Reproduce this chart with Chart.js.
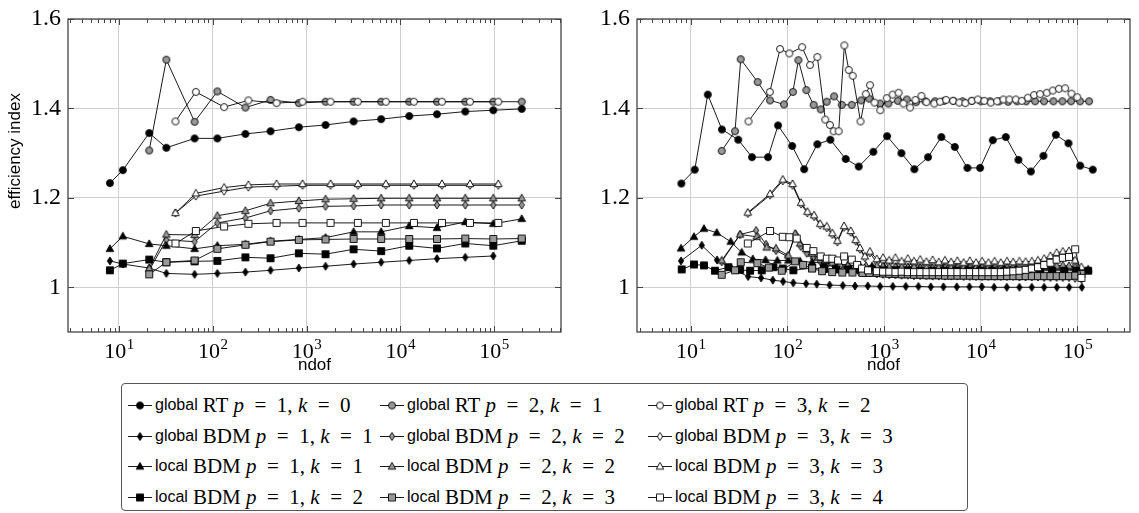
<!DOCTYPE html>
<html>
<head>
<meta charset="utf-8">
<script src="https://cdn.jsdelivr.net/npm/chart.js@4.4.0/dist/chart.umd.min.js"></script>
<style>
  body { margin: 0; background: #fff; width: 1139px; height: 513px; overflow: hidden; position: relative; font-family: "Liberation Sans", Arial, sans-serif; }
  #wrapL { position: absolute; left: 0; top: 0; }
  #wrapR { position: absolute; left: 570px; top: 0; }
  #legend { position: absolute; left: 121px; top: 383px; width: 845px; height: 126px; border: 1px solid #555; border-radius: 4px; }
  .ent { position: absolute; height: 22px; display: flex; align-items: center; white-space: nowrap; color: #000; }
  .ent img { margin-right: 3px; }
  .w { font-family: "Liberation Sans", Arial, sans-serif; font-size: 16px; margin-right: 5px; }
  .m { font-family: "Liberation Serif", "Times New Roman", serif; font-size: 21px; }
  .m i { font-style: italic; }
</style>
</head>
<body>
<div id="wrapL"><canvas id="chartL" width="575" height="376"></canvas></div>
<div id="wrapR"><canvas id="chartR" width="569" height="376"></canvas></div>
<div id="legend"></div>
<script>
// ---------- axes ----------
const X_MAJOR = [10, 100, 1000, 10000, 100000];
const Y_TICKS = [1, 1.2, 1.4, 1.6];

// ---------- left panel (uniform refinement) ----------
const L_ndofA = [8, 11, 21, 32, 64, 112, 223, 413, 828, 1595, 3175, 6250, 12450, 24600, 49300, 98000, 197000];
const L_ndofB = [40, 66, 132, 240, 479, 906, 1803, 3524, 7015, 13960, 27800, 55300, 110900];

const L_gRT1   = [1.233, 1.262, 1.345, 1.312, 1.333, 1.333, 1.343, 1.349, 1.358, 1.363, 1.371, 1.376, 1.383, 1.387, 1.393, 1.396, 1.399];
const L_gRT2   = [null, null, 1.306, 1.509, 1.370, 1.438, 1.402, 1.419, 1.412, 1.415, 1.415, 1.415, 1.415, 1.415, 1.415, 1.415, 1.415];
const L_gRT3   = [1.371, 1.437, 1.403, 1.418, 1.412, 1.415, 1.415, 1.415, 1.415, 1.415, 1.415, 1.415, 1.415];
const L_gBDM1  = [1.059, 1.052, 1.043, 1.031, 1.029, 1.031, 1.034, 1.038, 1.043, 1.047, 1.052, 1.056, 1.060, 1.064, 1.067, 1.070, null];
const L_gBDM2  = [null, null, 1.038, 1.106, 1.102, 1.144, 1.155, 1.171, 1.177, 1.181, 1.182, 1.184, 1.184, 1.184, 1.184, 1.184, 1.184];
const L_gBDM3  = [1.166, 1.204, 1.215, 1.224, 1.226, 1.228, 1.228, 1.228, 1.228, 1.228, 1.228, 1.228, 1.228];
const L_lBDM11 = [1.086, 1.114, 1.097, 1.093, 1.086, 1.093, 1.096, 1.103, 1.107, 1.111, 1.124, 1.124, 1.137, 1.133, 1.146, 1.142, 1.153];
const L_lBDM22 = [null, null, 1.042, 1.118, 1.117, 1.160, 1.171, 1.188, 1.193, 1.197, 1.198, 1.199, 1.199, 1.199, 1.199, 1.199, 1.199];
const L_lBDM33 = [1.166, 1.210, 1.223, 1.229, 1.231, 1.231, 1.231, 1.231, 1.231, 1.231, 1.231, 1.231, 1.231];
const L_lBDM12 = [1.038, 1.053, 1.062, 1.056, 1.058, 1.059, 1.067, 1.065, 1.076, 1.074, 1.085, 1.081, 1.093, 1.087, 1.098, 1.093, 1.104];
const L_lBDM23 = [null, null, 1.029, 1.056, 1.060, 1.086, 1.095, 1.102, 1.106, 1.107, 1.108, 1.108, 1.108, 1.108, 1.109, 1.108, 1.109];
const L_lBDM34 = [1.098, 1.126, 1.136, 1.142, 1.144, 1.144, 1.144, 1.144, 1.144, 1.144, 1.144, 1.144, 1.144];

// ---------- right panel (adaptive refinement) ----------
const R_gRT1_n = [8, 11, 15, 21, 31, 43, 63, 80, 112, 149, 204, 278, 401, 547, 774, 1074, 1510, 2057, 2851, 3915, 5385, 7274, 9840, 13330, 18170, 24540, 32980, 44490, 59790, 80770, 106700, 144300];
const R_gRT1   = [1.232, 1.263, 1.431, 1.353, 1.330, 1.291, 1.291, 1.362, 1.316, 1.264, 1.320, 1.330, 1.287, 1.270, 1.303, 1.338, 1.300, 1.264, 1.291, 1.336, 1.314, 1.267, 1.267, 1.329, 1.336, 1.285, 1.259, 1.294, 1.341, 1.322, 1.272, 1.263];

const R_gRT2_n = [20.9, 28.7, 32.9, 49.3, 66.1, 92.2, 114, 130, 157, 187, 221, 255, 304, 365, 463, 579, 700, 910, 1107, 1386, 1718, 2143, 2674, 3371, 4180, 5215, 6486, 8072, 10070, 12500, 15490, 19190, 23770, 29440, 36480, 45190, 56440, 69980, 86090, 106600, 132100];
const R_gRT2   = [1.305, 1.349, 1.510, 1.459, 1.418, 1.409, 1.437, 1.508, 1.441, 1.408, 1.398, 1.415, 1.427, 1.408, 1.408, 1.418, 1.422, 1.411, 1.411, 1.417, 1.420, 1.414, 1.416, 1.416, 1.417, 1.417, 1.416, 1.417, 1.416, 1.416, 1.416, 1.415, 1.416, 1.416, 1.416, 1.416, 1.416, 1.416, 1.416, 1.416, 1.416];

const R_gRT3_n = [39.6, 65.8, 83.9, 104.7, 141.8, 171.5, 204, 246.4, 275, 301, 339, 388, 431, 474, 571, 647, 716, 797, 914, 1067, 1225, 1413, 1584, 1859, 2108, 2432, 2740, 3306, 3796, 4378, 5173, 5999, 6934, 8075, 9323, 10890, 12710, 14760, 17150, 19780, 23050, 26600, 30690, 35650, 41120, 48220, 55600, 64370, 74650, 86770, 99770];
const R_gRT3   = [1.371, 1.437, 1.533, 1.523, 1.537, 1.497, 1.515, 1.375, 1.363, 1.349, 1.349, 1.541, 1.486, 1.473, 1.371, 1.432, 1.452, 1.413, 1.396, 1.423, 1.431, 1.435, 1.411, 1.402, 1.419, 1.428, 1.414, 1.411, 1.415, 1.419, 1.417, 1.413, 1.412, 1.417, 1.420, 1.417, 1.413, 1.416, 1.420, 1.420, 1.420, 1.417, 1.424, 1.430, 1.432, 1.435, 1.440, 1.444, 1.445, 1.433, 1.425];

const R_gBDM1_n = [7.94, 13.0, 18.7, 26.1, 39.2, 53.4, 70.6, 90.2, 115, 156, 201, 273, 374, 501, 678, 909, 1231, 1678, 2266, 3043, 4109, 5651, 7631, 10260, 13750, 18600, 25120, 33740, 45250, 61250, 82180, 111200];
const R_gBDM1   = [1.059, 1.094, 1.061, 1.043, 1.024, 1.021, 1.016, 1.013, 1.010, 1.008, 1.007, 1.005, 1.004, 1.003, 1.003, 1.002, 1.002, 1.002, 1.002, 1.001, 1.001, 1.001, 1.001, 1.001, 1.000, 1.000, 1.000, 1.000, 1.000, 1.000, 1.000, 1.000];

// shared fine ndof sequences of the adaptive runs
const R_ndofD  = [840, 975, 1130, 1310, 1517, 1758, 2037, 2364, 2740, 3175, 3681, 4266, 4943, 5728, 6650, 7708, 8933, 10350, 12000, 13900, 16110, 18700, 21680, 25120, 29110, 33730, 39090, 45300, 52600, 60950, 70630, 81850, 94850, 110000];
const R_ndofP1 = [180, 239, 318, 424, 564, 750, 999, 1330, 1770, 2355, 3138, 4177, 5557, 7394, 9845, 13100, 17450, 23210, 30880, 41100, 54700, 72890, 97040, 129100];

const R_gBDM2_n0 = [20.9, 32.4, 47.4, 60.1, 76.3, 99.8, 121.9, 137.4, 158.5, 184.2, 217.6, 257.3, 311, 376.4, 455.5, 551.3, 667.1];
const R_gBDM2_v0 = [1.057, 1.118, 1.127, 1.096, 1.082, 1.069, 1.118, 1.091, 1.076, 1.065, 1.058, 1.050, 1.045, 1.040, 1.036, 1.034, 1.032];
const R_gBDM2_vD = [1.030, 1.029, 1.028, 1.028, 1.027, 1.027, 1.026, 1.026, 1.026, 1.025, 1.025, 1.025, 1.025, 1.025, 1.024, 1.024, 1.024, 1.024, 1.024, 1.024, 1.024, 1.024, 1.024, 1.023, 1.023, 1.023, 1.023, 1.022, 1.022, 1.022, 1.022, 1.022, 1.020, 1.018];

const R_ndofW = [38.9, 66.1, 89.5, 113, 138.4, 161.1, 188.9, 218.1, 255.3, 291.7, 328.9, 385.6, 451.8, 507.9, 563.2, 633.8, 714];
const R_gBDM3_v0 = [1.165, 1.206, 1.238, 1.228, 1.186, 1.166, 1.158, 1.139, 1.133, 1.118, 1.101, 1.134, 1.123, 1.103, 1.085, 1.066, 1.077];
const R_gBDM3_vD = [1.055, 1.058, 1.052, 1.056, 1.050, 1.053, 1.049, 1.051, 1.048, 1.050, 1.047, 1.049, 1.047, 1.048, 1.046, 1.048, 1.046, 1.047, 1.046, 1.047, 1.046, 1.047, 1.046, 1.047, 1.047, 1.048, 1.050, 1.054, 1.059, 1.065, 1.070, 1.072, 1.050, 1.030];
const R_lBDM33_v0 = [1.167, 1.209, 1.241, 1.231, 1.189, 1.169, 1.161, 1.142, 1.136, 1.121, 1.104, 1.137, 1.126, 1.106, 1.088, 1.069, 1.080];
const R_lBDM33_vD = [1.063, 1.066, 1.060, 1.066, 1.058, 1.064, 1.058, 1.062, 1.057, 1.061, 1.056, 1.060, 1.056, 1.059, 1.055, 1.059, 1.055, 1.058, 1.055, 1.058, 1.055, 1.058, 1.056, 1.058, 1.057, 1.058, 1.060, 1.064, 1.070, 1.077, 1.080, 1.081, 1.060, 1.045];

const R_lBDM11_n0 = [7.94, 10.8, 13.7, 18.6, 25.9, 33.7, 43.8, 59.4, 78.7, 102.3, 135.3];
const R_lBDM11_v0 = [1.087, 1.113, 1.131, 1.122, 1.102, 1.078, 1.063, 1.061, 1.060, 1.060, 1.058];
const R_lBDM11_vP = [1.056, 1.054, 1.052, 1.050, 1.048, 1.047, 1.046, 1.045, 1.044, 1.044, 1.043, 1.043, 1.042, 1.042, 1.042, 1.041, 1.041, 1.041, 1.041, 1.041, 1.040, 1.040, 1.040, 1.040];

const R_lBDM22_n0 = [20.9, 32.4, 48.1, 61.0, 76.1, 102.3, 120.2, 135.3, 156.1, 180.0, 207.8, 245.7, 290.4, 349.6, 421.3, 507.4, 649.3];
const R_lBDM22_v0 = [1.060, 1.118, 1.113, 1.089, 1.087, 1.071, 1.120, 1.098, 1.085, 1.075, 1.066, 1.060, 1.055, 1.051, 1.049, 1.048, 1.048];
const R_lBDM22_vD = [1.048, 1.047, 1.046, 1.046, 1.045, 1.045, 1.045, 1.044, 1.044, 1.044, 1.044, 1.044, 1.044, 1.044, 1.044, 1.044, 1.044, 1.044, 1.044, 1.044, 1.044, 1.044, 1.044, 1.044, 1.044, 1.045, 1.045, 1.046, 1.047, 1.048, 1.049, 1.048, 1.045, 1.040];

const R_lBDM12_n0 = [8.07, 10.8, 13.7, 17.8, 24.5, 32.4, 41.1, 54.3, 71.5, 89.5, 115.2];
const R_lBDM12_v0 = [1.040, 1.051, 1.049, 1.037, 1.045, 1.039, 1.037, 1.038, 1.045, 1.042, 1.038];
const R_lBDM12_vP = [1.043, 1.041, 1.040, 1.040, 1.039, 1.039, 1.038, 1.038, 1.038, 1.037, 1.037, 1.037, 1.037, 1.037, 1.037, 1.037, 1.037, 1.037, 1.037, 1.037, 1.037, 1.037, 1.037, 1.037];

const R_lBDM23_n0 = [20.9, 28.7, 32.9, 48.9, 64.3, 87.3, 120.2, 145.4, 180, 228.3, 290.4, 369.5, 470.1, 598.2, 705];
const R_lBDM23_v0 = [1.028, 1.038, 1.056, 1.054, 1.044, 1.037, 1.058, 1.050, 1.042, 1.036, 1.034, 1.033, 1.033, 1.032, 1.032];
const R_lBDM23_vD = [1.032, 1.031, 1.030, 1.030, 1.029, 1.029, 1.028, 1.028, 1.027, 1.027, 1.027, 1.026, 1.026, 1.026, 1.026, 1.026, 1.025, 1.025, 1.025, 1.025, 1.025, 1.025, 1.025, 1.025, 1.025, 1.025, 1.025, 1.025, 1.025, 1.025, 1.025, 1.025, 1.026, 1.030];

const R_lBDM34_n0 = [38.9, 66.1, 89.5, 104.7, 124.9, 158.5, 185.6, 221.2, 255.3, 291.7, 334.1, 385.6, 463.4, 525.8, 591.9, 682.6];
const R_lBDM34_v0 = [1.098, 1.126, 1.113, 1.112, 1.109, 1.088, 1.081, 1.069, 1.064, 1.064, 1.060, 1.069, 1.062, 1.050, 1.042, 1.038];
const R_lBDM34_vD = [1.036, 1.035, 1.035, 1.034, 1.035, 1.034, 1.034, 1.034, 1.034, 1.034, 1.034, 1.034, 1.034, 1.034, 1.034, 1.034, 1.034, 1.034, 1.034, 1.034, 1.034, 1.035, 1.036, 1.037, 1.039, 1.042, 1.045, 1.050, 1.055, 1.062, 1.066, 1.068, 1.085, 1.021];

// ---------- legend entries ----------
const NAMES = [
  ['global', 'RT', 1, 0], ['global', 'RT', 2, 1], ['global', 'RT', 3, 2],
  ['global', 'BDM', 1, 1], ['global', 'BDM', 2, 2], ['global', 'BDM', 3, 3],
  ['local', 'BDM', 1, 1], ['local', 'BDM', 2, 2], ['local', 'BDM', 3, 3],
  ['local', 'BDM', 1, 2], ['local', 'BDM', 2, 3], ['local', 'BDM', 3, 4]
];
const MARKS = [
  ['circle', '#000'], ['circle', '#999'], ['circle', '#fff'],
  ['diamond', '#000'], ['diamond', '#999'], ['diamond', '#fff'],
  ['triangle', '#000'], ['triangle', '#999'], ['triangle', '#fff'],
  ['square', '#000'], ['square', '#999'], ['square', '#fff']
];

function pts(n, v) {
  return n.map((x, i) => ({ x: x, y: v[i] })).filter(p => p.y != null);
}

function makeMarker(shape, fill) {
  const c = document.createElement('canvas');
  const dia = shape === 'diamond';
  c.width = dia ? 8 : 10;
  c.height = 10;
  const g = c.getContext('2d');
  g.beginPath();
  if (shape === 'circle') g.arc(5, 5, 3.5, 0, 2 * Math.PI);
  else if (shape === 'square') g.rect(1.5, 1.5, 7, 7);
  else if (shape === 'triangle') { g.moveTo(5, 0.9); g.lineTo(8.8, 7.7); g.lineTo(1.2, 7.7); g.closePath(); }
  else { g.moveTo(4, 1); g.lineTo(6.6, 5); g.lineTo(4, 9); g.lineTo(1.4, 5); g.closePath(); }
  g.fillStyle = fill;
  g.fill();
  g.lineWidth = 0.9;
  g.strokeStyle = '#000';
  g.stroke();
  return c;
}

const markers = MARKS.map(m => makeMarker(m[0], m[1]));

const leftSets = [
  pts(L_ndofA, L_gRT1), pts(L_ndofA, L_gRT2), pts(L_ndofB, L_gRT3),
  pts(L_ndofA, L_gBDM1), pts(L_ndofA, L_gBDM2), pts(L_ndofB, L_gBDM3),
  pts(L_ndofA, L_lBDM11), pts(L_ndofA, L_lBDM22), pts(L_ndofB, L_lBDM33),
  pts(L_ndofA, L_lBDM12), pts(L_ndofA, L_lBDM23), pts(L_ndofB, L_lBDM34)
];

const rightSets = [
  pts(R_gRT1_n, R_gRT1), pts(R_gRT2_n, R_gRT2), pts(R_gRT3_n, R_gRT3),
  pts(R_gBDM1_n, R_gBDM1),
  pts(R_gBDM2_n0.concat(R_ndofD), R_gBDM2_v0.concat(R_gBDM2_vD)),
  pts(R_ndofW.concat(R_ndofD), R_gBDM3_v0.concat(R_gBDM3_vD)),
  pts(R_lBDM11_n0.concat(R_ndofP1), R_lBDM11_v0.concat(R_lBDM11_vP)),
  pts(R_lBDM22_n0.concat(R_ndofD), R_lBDM22_v0.concat(R_lBDM22_vD)),
  pts(R_ndofW.concat(R_ndofD), R_lBDM33_v0.concat(R_lBDM33_vD)),
  pts(R_lBDM12_n0.concat(R_ndofP1), R_lBDM12_v0.concat(R_lBDM12_vP)),
  pts(R_lBDM23_n0.concat(R_ndofD), R_lBDM23_v0.concat(R_lBDM23_vD)),
  pts(R_lBDM34_n0.concat(R_ndofD), R_lBDM34_v0.concat(R_lBDM34_vD))
];

// frame, inward ticks, 10^n labels, y label
const axisDeco = {
  id: 'axisDeco',
  beforeDatasetsDraw(chart) {
    const { ctx, chartArea: a, scales: { x, y } } = chart;
    ctx.save();
    ctx.strokeStyle = '#444';
    ctx.lineWidth = 1;
    ctx.beginPath();
    for (let e = 0; e <= 6; e++) {
      for (let m = 1; m < 10; m++) {
        const v = m * Math.pow(10, e);
        if (v < x.min || v > x.max) continue;
        const px = Math.round(x.getPixelForValue(v)) + 0.5;
        const len = m === 1 ? 6 : 4;
        ctx.moveTo(px, a.top); ctx.lineTo(px, a.top + len);
        ctx.moveTo(px, a.bottom); ctx.lineTo(px, a.bottom - len);
      }
    }
    Y_TICKS.forEach(v => {
      const py = Math.round(y.getPixelForValue(v)) + 0.5;
      ctx.moveTo(a.left, py); ctx.lineTo(a.left + 6, py);
      ctx.moveTo(a.right, py); ctx.lineTo(a.right - 6, py);
    });
    ctx.stroke();
    ctx.lineWidth = 1.3;
    ctx.strokeRect(a.left, a.top, a.right - a.left, a.bottom - a.top);
    ctx.restore();
  },
  afterDraw(chart, args, opts) {
    const { ctx, chartArea: a, scales: { x } } = chart;
    ctx.save();
    ctx.fillStyle = '#000';
    ctx.textAlign = 'left';
    ctx.textBaseline = 'alphabetic';
    X_MAJOR.forEach(v => {
      if (v < x.min || v > x.max) return;
      const px = x.getPixelForValue(v);
      const ex = String(Math.round(Math.log10(v)));
      ctx.font = '22px "Liberation Serif"';
      const w1 = ctx.measureText('10').width;
      ctx.font = '15px "Liberation Serif"';
      const w2 = ctx.measureText(ex).width;
      const x0 = px - (w1 + w2) / 2;
      ctx.font = '22px "Liberation Serif"';
      ctx.fillText('10', x0, a.bottom + 26);
      ctx.font = '15px "Liberation Serif"';
      ctx.fillText(ex, x0 + w1 + 0.5, a.bottom + 17);
    });
    if (opts.yTitle) {
      ctx.translate(15, 151);
      ctx.rotate(-Math.PI / 2);
      ctx.textAlign = 'center';
      ctx.textBaseline = 'middle';
      ctx.font = '17px "Liberation Sans"';
      ctx.fillText(opts.yTitle, 0, 0);
    }
    ctx.restore();
  }
};

function buildChart(id, sets, xmin, xmax, yWidth, padRight, yTitle) {
  const datasets = sets.map((s, i) => ({
    label: NAMES[i][0] + ' ' + NAMES[i][1] + ' p = ' + NAMES[i][2] + ', k = ' + NAMES[i][3],
    data: s,
    borderColor: '#000',
    backgroundColor: MARKS[i][1],
    borderWidth: 0.9,
    pointStyle: markers[i],
    pointRadius: 4,
    pointHoverRadius: 4,
    tension: 0,
    fill: false,
    order: 11 - i
  }));
  return new Chart(document.getElementById(id), {
    type: 'line',
    data: { datasets: datasets },
    options: {
      animation: false,
      responsive: false,
      devicePixelRatio: 1,
      events: [],
      layout: { autoPadding: false, padding: { top: 13, right: padRight, bottom: 0, left: 0 } },
      plugins: { legend: { display: false }, tooltip: { enabled: false }, axisDeco: { yTitle: yTitle } },
      scales: {
        x: {
          type: 'logarithmic', min: xmin, max: xmax,
          afterBuildTicks: s => { s.ticks = X_MAJOR.map(v => ({ value: v })); },
          afterFit: s => { s.height = 44; },
          ticks: { display: false },
          grid: { color: '#cfcfcf', lineWidth: 1, drawTicks: false },
          border: { display: false },
          title: { display: true, text: 'ndof', color: '#000', padding: 0, font: { family: 'Liberation Sans', size: 17 } }
        },
        y: {
          min: 0.9, max: 1.6,
          afterBuildTicks: s => { s.ticks = Y_TICKS.map(v => ({ value: v })); },
          afterFit: s => { s.width = yWidth; },
          ticks: {
            color: '#000', padding: 7,
            font: { family: 'Liberation Serif', size: 24, lineHeight: 1 },
            callback: v => (v === 1 ? '1' : v.toFixed(1))
          },
          grid: { color: '#cfcfcf', lineWidth: 1, drawTicks: false },
          border: { display: false }
        }
      }
    },
    plugins: [axisDeco]
  });
}

buildChart('chartL', leftSets, 2.86, 517000, 68, 14, 'efficiency index');
buildChart('chartR', rightSets, 2.78, 350000, 67, 9, null);

// ---------- legend ----------
const legend = document.getElementById('legend');
const COL_X = [6, 258, 526];
const ROW_Y = [10, 41, 71, 102];
NAMES.forEach((n, i) => {
  const img = document.createElement('canvas');
  img.width = 24; img.height = 12;
  const g = img.getContext('2d');
  g.strokeStyle = '#000'; g.lineWidth = 0.9;
  g.beginPath(); g.moveTo(0, 6.5); g.lineTo(24, 6.5); g.stroke();
  const mk = markers[i];
  g.drawImage(mk, 12 - mk.width / 2, 6 - mk.height / 2 + 0.5);
  const div = document.createElement('div');
  div.className = 'ent';
  div.style.left = COL_X[i % 3] + 'px';
  div.style.top = ROW_Y[Math.floor(i / 3)] + 'px';
  const im = document.createElement('img');
  im.src = img.toDataURL();
  im.width = 24; im.height = 12;
  div.appendChild(im);
  div.insertAdjacentHTML('beforeend',
    '<span class="w">' + n[0] + '</span><span class="m">' + n[1] +
    '&nbsp;<i>p</i>&ensp;=&ensp;' + n[2] + ',&nbsp;<i>k</i>&ensp;=&ensp;' + n[3] + '</span>');
  legend.appendChild(div);
});
</script>
</body>
</html>
